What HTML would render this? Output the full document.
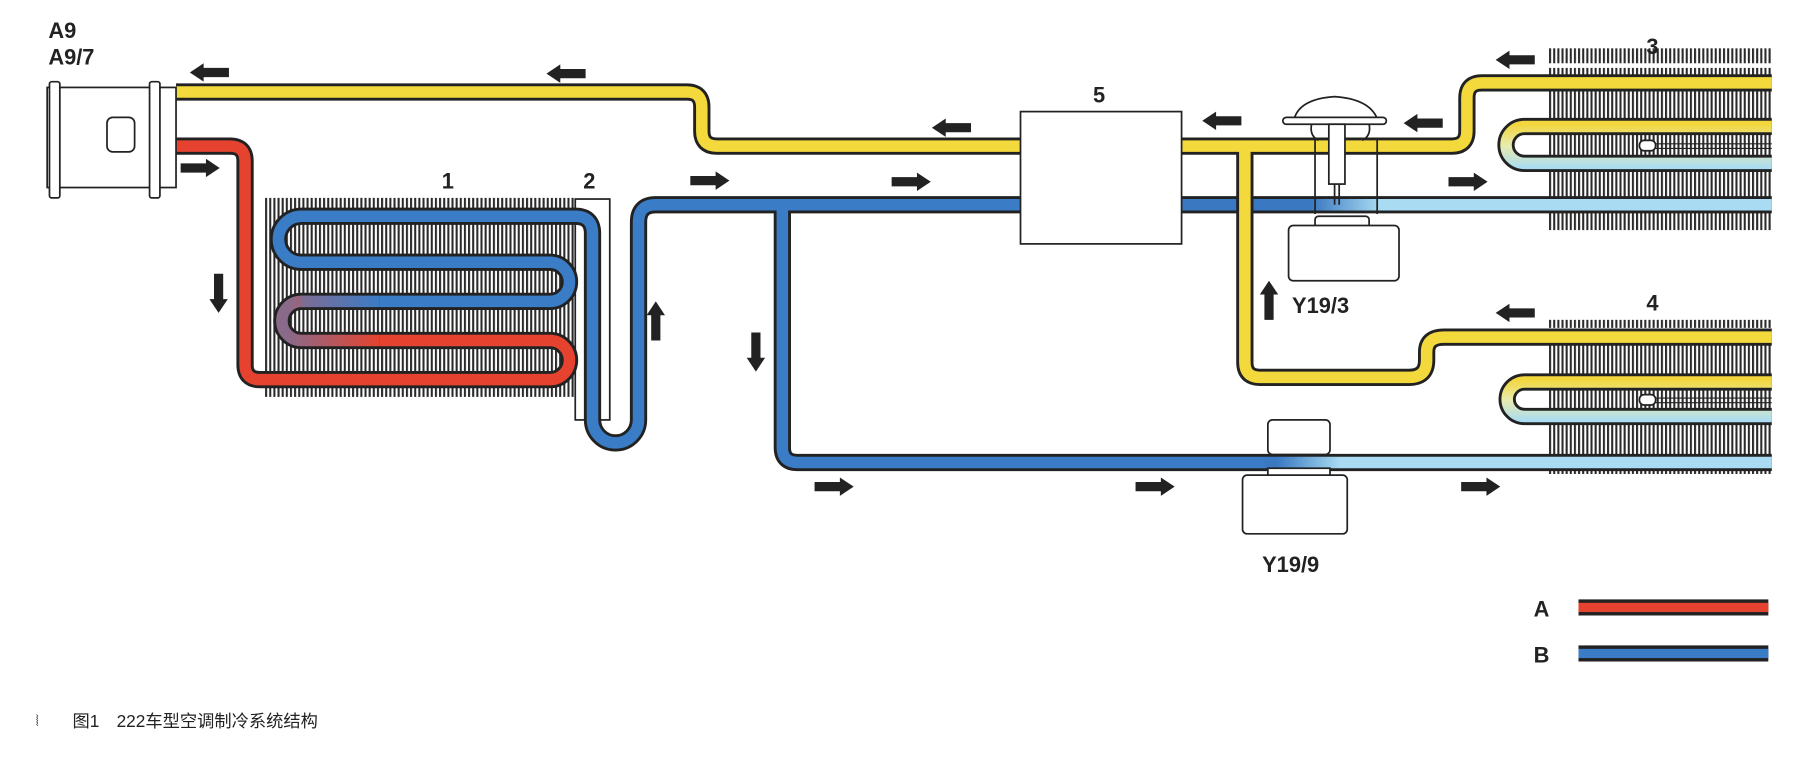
<!DOCTYPE html>
<html><head><meta charset="utf-8"><style>
html,body{margin:0;padding:0;background:#fff;}
svg{display:block;}
text{font-family:"Liberation Sans","Noto Sans CJK SC",sans-serif;font-weight:bold;fill:#222;}
</style></head><body>
<svg width="1804" height="757" viewBox="0 0 1568 658" preserveAspectRatio="none" xmlns="http://www.w3.org/2000/svg">
<defs>
<pattern id="fin" width="3.6" height="10" patternUnits="userSpaceOnUse"><rect x="0" y="0" width="1.8" height="10" fill="#2a2a2a"/></pattern>
<linearGradient id="b3" x1="1140" y1="0" x2="1200" y2="0" gradientUnits="userSpaceOnUse"><stop offset="0" stop-color="#3a78c2"/><stop offset="1" stop-color="#a9dcf2"/></linearGradient>
<linearGradient id="b9" x1="1110" y1="0" x2="1165" y2="0" gradientUnits="userSpaceOnUse"><stop offset="0" stop-color="#3a78c2"/><stop offset="1" stop-color="#a9dcf2"/></linearGradient>
<linearGradient id="u3" x1="0" y1="108" x2="0" y2="146" gradientUnits="userSpaceOnUse"><stop offset="0" stop-color="#f2d63c"/><stop offset="0.5" stop-color="#e8ecb0"/><stop offset="1" stop-color="#a9dcf2"/></linearGradient>
<linearGradient id="u4" x1="0" y1="330" x2="0" y2="366" gradientUnits="userSpaceOnUse"><stop offset="0" stop-color="#f2d63c"/><stop offset="0.5" stop-color="#e8ecb0"/><stop offset="1" stop-color="#a9dcf2"/></linearGradient>
<linearGradient id="pu" x1="250" y1="0" x2="330" y2="0" gradientUnits="userSpaceOnUse"><stop offset="0" stop-color="#8a6a8a"/><stop offset="1" stop-color="#e5432f"/></linearGradient>
<linearGradient id="pu2" x1="250" y1="0" x2="330" y2="0" gradientUnits="userSpaceOnUse"><stop offset="0" stop-color="#8a6a8a"/><stop offset="1" stop-color="#3a7cc6"/></linearGradient>
<path id="al" d="M0,0 L12,-8 L12,-4 L34,-4 L34,4 L12,4 L12,8 Z" fill="#222"/>
</defs>

<rect x="230" y="172" width="270" height="173" fill="url(#fin)"/>
<rect x="1345" y="42" width="195" height="158" fill="url(#fin)"/>
<rect x="1345" y="278" width="195" height="134" fill="url(#fin)"/>
<rect x="1345" y="55" width="195" height="4" fill="#fff"/>
<rect x="1345" y="285" width="195" height="3" fill="#fff"/>

<rect x="500" y="173" width="30" height="192" fill="#fff" stroke="#222" stroke-width="1.5"/>

<g fill="none" stroke-linecap="butt" stroke-linejoin="round">
<g stroke="#222" stroke-width="15">
<path d="M153,80 H597 Q610,80 610,93 V114 Q610,127 623,127 H887"/>
<path d="M1027,127 H1262 Q1275,127 1275,114 V85 Q1275,72 1288,72 H1540"/>
<path d="M153,127 H200 Q213,127 213,140 V317 Q213,330 226,330 H478 A17,17 0 0 0 478,296 H262 A17,17 0 0 1 262,262 H478 A17,17 0 0 0 478,228 H262 A20,20 0 0 1 262,188 H500 Q515,188 515,203 V365 A20,20 0 0 0 555,365 V193 Q555,178 570,178 H887"/>
<path d="M1027,178 H1540"/>
<path d="M680,178 V389 Q680,402 693,402 H1540"/>
<path d="M1540,110 H1325 A16,16 0 0 0 1325,142 H1540"/>
<path d="M1540,332 H1325 A15,15 0 0 0 1325,362 H1540"/>
</g>
<g stroke-width="10">
<path stroke="#e5432f" d="M153,127 H200 Q213,127 213,140 V317 Q213,330 226,330 H478 A17,17 0 0 0 478,296 H330"/>
<path stroke="url(#pu)" d="M330,296 H262 A17,17 0 0 1 262,262 H270"/>
<path stroke="url(#pu2)" d="M262,262 H330"/>
<path stroke="#3a7cc6" d="M330,262 H478 A17,17 0 0 0 478,228 H262 A20,20 0 0 1 262,188 H500 Q515,188 515,203 V365 A20,20 0 0 0 555,365 V193 Q555,178 570,178 H887"/>
<path stroke="url(#b3)" d="M1027,178 H1540"/>
<path stroke="#3a7cc6" d="M680,178 V389 Q680,402 693,402 H1100"/>
<path stroke="url(#b9)" d="M1100,402 H1540"/>
<path stroke="url(#u3)" d="M1540,110 H1325 A16,16 0 0 0 1325,142 H1540"/>
<path stroke="url(#u4)" d="M1540,332 H1325 A15,15 0 0 0 1325,362 H1540"/>
</g>
<path stroke="#222" stroke-width="15" d="M1082,134 V315 Q1082,328 1095,328 H1225 Q1240,328 1240,313 V306 Q1240,293 1255,293 H1540"/>
<g stroke-width="10" stroke="#f3d93c">
<path d="M153,80 H597 Q610,80 610,93 V114 Q610,127 623,127 H887"/>
<path d="M1027,127 H1262 Q1275,127 1275,114 V85 Q1275,72 1288,72 H1540"/>
<path d="M1082,127 V315 Q1082,328 1095,328 H1225 Q1240,328 1240,313 V306 Q1240,293 1255,293 H1540"/>
</g>
</g>
<g stroke="#222" stroke-width="1.5" fill="#fff">
<rect x="1425" y="122" width="14" height="9" rx="4"/>
<path d="M1439,125 H1540 M1439,129 H1540" fill="none" stroke-width="1"/>
<rect x="1425" y="343" width="14" height="9" rx="4"/>
<path d="M1439,346 H1540 M1439,350 H1540" fill="none" stroke-width="1"/>
</g>

<g stroke="#222" stroke-width="1.5" fill="#fff">
<rect x="41" y="76" width="112" height="87"/>
<rect x="43" y="71" width="9" height="101" rx="2"/>
<rect x="130" y="71" width="9" height="101" rx="2"/>
<rect x="93" y="102" width="24" height="30" rx="5"/>
</g>

<rect x="887" y="97" width="140" height="115" fill="#fff" stroke="#222" stroke-width="1.5"/>

<g stroke="#222" stroke-width="1.5" fill="#fff">
<path d="M1143,120 V186 M1197,120 V186" fill="none"/>
<rect x="1143" y="188" width="47" height="10" rx="3"/>
<rect x="1120" y="196" width="96" height="48" rx="4"/>
<path d="M1125,103 Q1130,86 1160,84 Q1190,86 1197,103 Z"/>
<rect x="1115" y="102" width="90" height="6" rx="3"/>
<path d="M1140,108 Q1138,118 1146,122 M1190,108 Q1192,118 1184,122" fill="none"/>
<rect x="1155" y="108" width="14" height="52"/>
<path d="M1160,160 V178 M1164,160 V178" fill="none"/>
</g>

<g stroke="#222" stroke-width="1.5" fill="#fff">
<rect x="1102" y="365" width="54" height="30" rx="4"/>
<rect x="1102" y="407" width="54" height="8"/>
<rect x="1080" y="413" width="91" height="51" rx="4"/>
</g>

<use href="#al" transform="translate(165,63)"/>
<use href="#al" transform="translate(475,64)"/>
<use href="#al" transform="translate(810,111)"/>
<use href="#al" transform="translate(1045,105)"/>
<use href="#al" transform="translate(1220,107)"/>
<use href="#al" transform="translate(1300,52)"/>
<use href="#al" transform="translate(1300,272)"/>
<use href="#al" transform="translate(191,146) rotate(180)"/>
<use href="#al" transform="translate(634,157) rotate(180)"/>
<use href="#al" transform="translate(809,158) rotate(180)"/>
<use href="#al" transform="translate(1293,158) rotate(180)"/>
<use href="#al" transform="translate(742,423) rotate(180)"/>
<use href="#al" transform="translate(1021,423) rotate(180)"/>
<use href="#al" transform="translate(1304,423) rotate(180)"/>
<use href="#al" transform="translate(190,272) rotate(-90)"/>
<use href="#al" transform="translate(657,323) rotate(-90)"/>
<use href="#al" transform="translate(570,262) rotate(90)"/>
<use href="#al" transform="translate(1103,244) rotate(90)"/>

<text x="42" y="33" font-size="19">A9</text>
<text x="42" y="56" font-size="19">A9/7</text>
<text x="384" y="164" font-size="19">1</text>
<text x="507" y="164" font-size="19">2</text>
<text x="950" y="89" font-size="19">5</text>
<text x="1431" y="47" font-size="19">3</text>
<text x="1431" y="270" font-size="19">4</text>
<text x="1123" y="272" font-size="19">Y19/3</text>
<text x="1097" y="497" font-size="19">Y19/9</text>
<text x="1333" y="536" font-size="19">A</text>
<text x="1333" y="576" font-size="19">B</text>

<rect x="1372" y="521" width="165" height="14" fill="#222"/>
<rect x="1372" y="524" width="165" height="8" fill="#e5432f"/>
<rect x="1372" y="561" width="165" height="14" fill="#222"/>
<rect x="1372" y="564" width="165" height="8" fill="#3a7cc6"/>

<text x="31" y="631" font-size="13" style="font-weight:normal" fill="#666">⦚</text>
<text x="63" y="632" font-size="15" style="font-weight:normal">图1　222车型空调制冷系统结构</text>
</svg>
</body></html>
